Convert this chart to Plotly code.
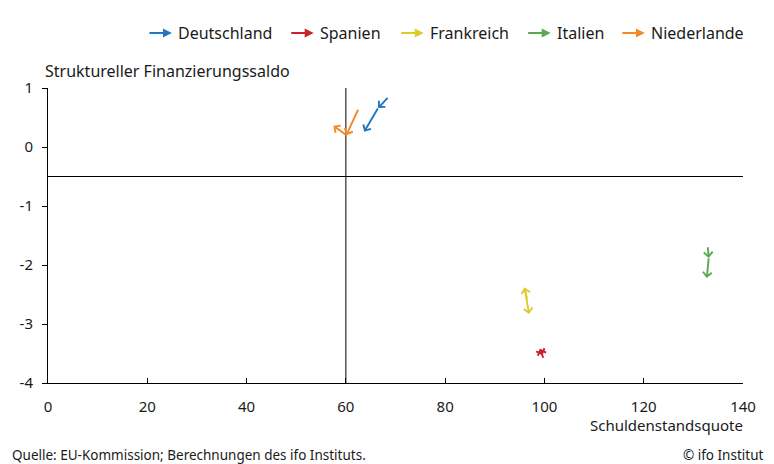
import plotly.graph_objects as go

# Schuldenstandsquote (x) und struktureller Finanzierungssaldo (y), je drei Zeitpunkte
countries = ["Deutschland", "Spanien", "Frankreich", "Italien", "Niederlande"]
colors = ["#1f78c1", "#c8232c", "#dccb2a", "#5aa952", "#f4892a"]
debt = {
    "Deutschland": [68.5, 66.5, 63.7],
    "Spanien": [99.8, 99.1, 99.6],
    "Frankreich": [96.5, 96.0, 96.9],
    "Italien": [132.9, 133.1, 132.7],
    "Niederlande": [62.5, 60.1, 57.5],
}
balance = {
    "Deutschland": [0.84, 0.66, 0.26],
    "Spanien": [-3.58, -3.42, -3.53],
    "Frankreich": [-2.58, -2.38, -2.83],
    "Italien": [-1.69, -1.88, -2.22],
    "Niederlande": [0.64, 0.20, 0.36],
}
x_ticks = [0, 20, 40, 60, 80, 100, 120, 140]
y_ticks = [-4, -3, -2, -1, 0, 1]
ref_x = 60
ref_y = -0.5

FONT = "Noto Sans, sans-serif"
TEXT = "#1a1a1a"

# plot area in pixels (figure coordinates; page adds an 8px body margin)
W, H = 766, 456
L, R, T, B = 34, 31, 80, 81
PW, PH = W - L - R, H - T - B


def px_to_paper(px, py):
    return (px - L) / PW, (H - B - py) / PH


def arrow(**kw):
    # empty, tiny text box so the arrow starts right at its tail point
    base = dict(showarrow=True, arrowhead=4, arrowsize=0.9, arrowwidth=1.9,
                text="", font=dict(size=1), borderpad=0, standoff=0, startstandoff=0)
    base.update(kw)
    return base


fig = go.Figure()

# invisible trace so the axes exist
fig.add_trace(go.Scatter(x=[ref_x], y=[ref_y], mode="markers",
                         marker=dict(opacity=0), showlegend=False, hoverinfo="skip"))

annotations = []
for name, color in zip(countries, colors):
    xs, ys = debt[name], balance[name]
    for i in range(len(xs) - 1):
        annotations.append(arrow(
            x=xs[i + 1], y=ys[i + 1], ax=xs[i], ay=ys[i],
            xref="x", yref="y", axref="x", ayref="y", arrowcolor=color,
        ))

# legend built from annotations (arrow + label)
legend_px = [159, 302, 413, 541, 636]
for px, name, color in zip(legend_px, countries, colors):
    xp, yp = px_to_paper(px, 25)
    annotations.append(arrow(x=xp, y=yp, xref="paper", yref="paper", ax=-23, ay=0,
                             arrowcolor=color, arrowhead=2, arrowsize=0.9, arrowwidth=2))
    annotations.append(dict(
        x=xp, y=yp, xref="paper", yref="paper", xshift=4, showarrow=False,
        xanchor="left", yanchor="middle", text=name,
        font=dict(size=16, color=TEXT, family=FONT),
    ))

src_x, src_y = px_to_paper(-4, 447)
annotations += [
    dict(x=0, y=1.0, xref="paper", yref="paper", xshift=-5, yshift=4, showarrow=False,
         xanchor="left", yanchor="bottom", text="Struktureller Finanzierungssaldo",
         font=dict(size=16, color=TEXT, family=FONT)),
    dict(x=1, y=-0.1, xref="paper", yref="paper", xshift=2, showarrow=False,
         xanchor="right", yanchor="top", text="Schuldenstandsquote",
         font=dict(size=15, color=TEXT, family=FONT)),
    dict(x=src_x, y=src_y, xref="paper", yref="paper", showarrow=False,
         xanchor="left", yanchor="middle",
         text="Quelle: EU-Kommission; Berechnungen des ifo Instituts.",
         font=dict(size=13.5, color=TEXT, family=FONT)),
    dict(x=1, y=src_y, xref="paper", yref="paper", xshift=23, showarrow=False,
         xanchor="right", yanchor="middle", text="© ifo Institut",
         font=dict(size=13.5, color=TEXT, family=FONT)),
]

shapes = [
    dict(type="line", xref="x", yref="y", x0=ref_x, x1=ref_x, y0=y_ticks[0], y1=y_ticks[-1],
         line=dict(color="black", width=1)),
    dict(type="line", xref="x", yref="y", x0=x_ticks[0], x1=x_ticks[-1], y0=ref_y, y1=ref_y,
         line=dict(color="black", width=1)),
]

fig.update_layout(
    width=W, height=H,
    margin=dict(l=L, r=R, t=T, b=B),
    paper_bgcolor="white", plot_bgcolor="white",
    font=dict(family=FONT, size=15, color=TEXT),
    showlegend=False,
    annotations=annotations,
    shapes=shapes,
    xaxis=dict(
        range=[x_ticks[0], x_ticks[-1]], tickvals=x_ticks, ticktext=[str(v) for v in x_ticks],
        showgrid=False, zeroline=False, showline=True, linecolor="black", linewidth=1,
        ticks="inside", ticklen=5, tickcolor="black", ticklabelstandoff=10,
    ),
    yaxis=dict(
        range=[y_ticks[0], y_ticks[-1]], tickvals=y_ticks, ticktext=[str(v) for v in y_ticks],
        showgrid=False, zeroline=False, showline=True, linecolor="black", linewidth=1,
        ticks="outside", ticklen=5, tickcolor="black", ticklabelstandoff=6,
    ),
)

fig.write_html("out.html")
